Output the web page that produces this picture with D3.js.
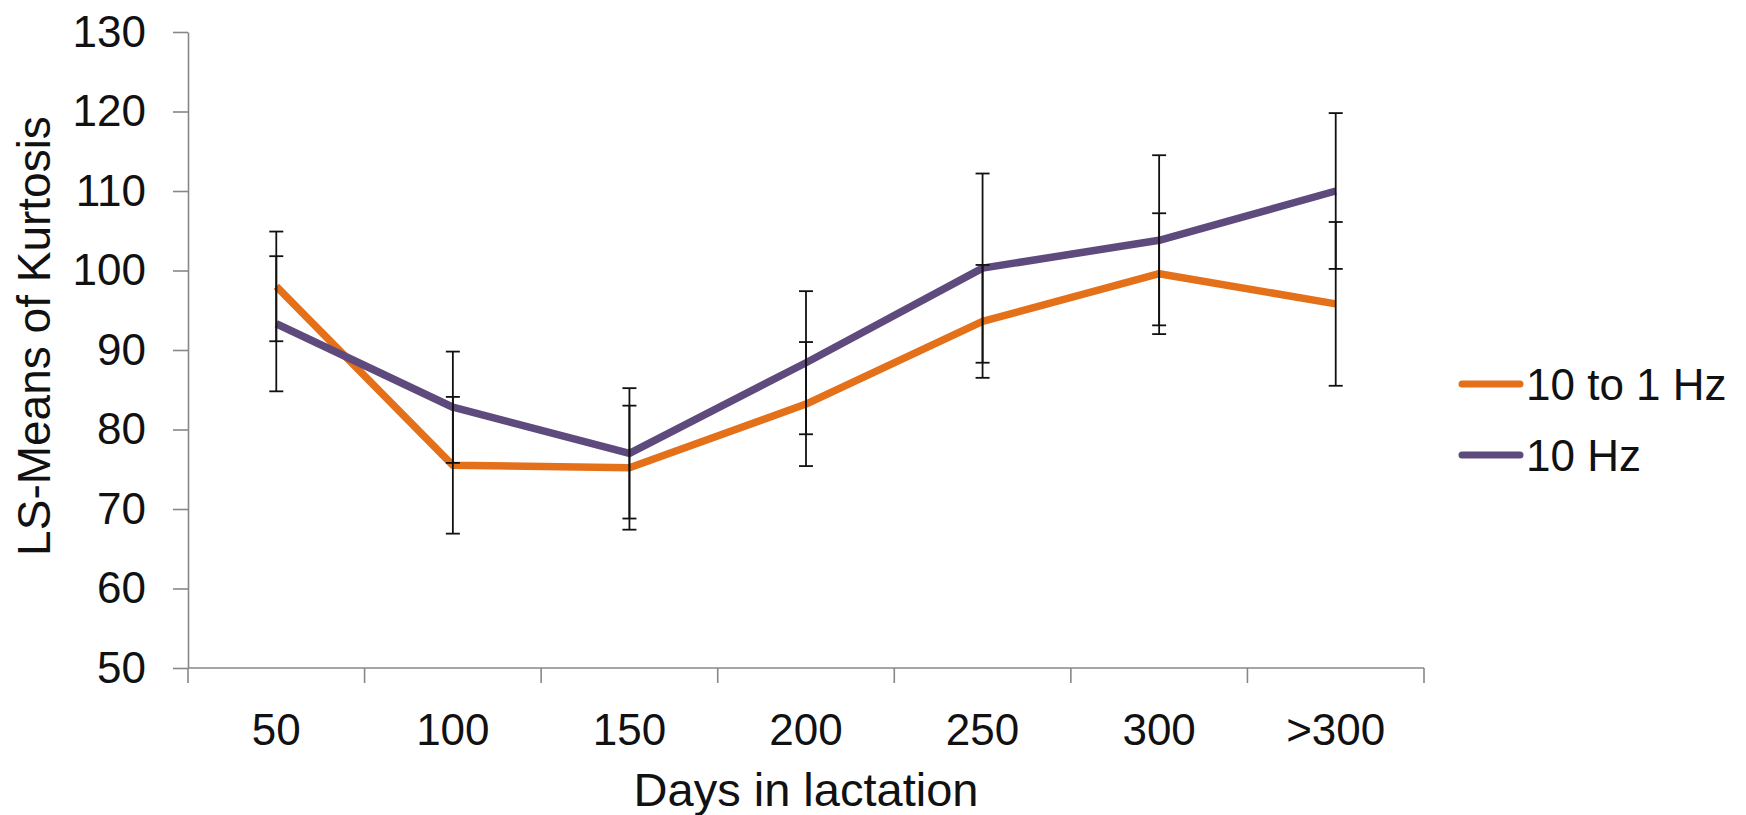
<!DOCTYPE html>
<html>
<head>
<meta charset="utf-8">
<script src="https://cdn.jsdelivr.net/npm/d3@7"></script>
<style>
  html, body { margin: 0; padding: 0; background: #ffffff; }
  svg { display: block; font-family: "Liberation Sans", Arial, sans-serif; }
</style>
</head>
<body>
<svg id="chart" width="1746" height="815"></svg>
<script>
// Days-in-lactation groups
const categories = ["50", "100", "150", "200", "250", "300", ">300"];

// LS-means of kurtosis and their error half-widths
const seriesNames = ["10 to 1 Hz", "10 Hz"];
const means10to1 = [98.0, 75.5, 75.2, 83.2, 93.6, 99.6, 95.8];
const err10to1   = [6.9, 8.6, 7.8, 7.8, 7.1, 7.6, 10.3];
const means10    = [93.3, 82.8, 77.0, 88.4, 100.3, 103.8, 110.0];
const err10      = [8.5, 7.0, 8.2, 9.0, 11.9, 10.7, 9.8];

const yTicks = [50, 60, 70, 80, 90, 100, 110, 120, 130];
const colors = ["#E4711A", "#5E4A7D"];

const series = [
  { name: seriesNames[0], values: means10to1, errors: err10to1, color: colors[0] },
  { name: seriesNames[1], values: means10, errors: err10, color: colors[1] }
];

const svg = d3.select("#chart");
const plotLeft = 188, plotRight = 1424, plotTop = 32, plotBottom = 668;

const x = d3.scaleBand().domain(categories).range([plotLeft, plotRight]).padding(0);
const y = d3.scaleLinear().domain([50, 130]).range([plotBottom, plotTop]);
const cx = c => x(c) + x.bandwidth() / 2;

const axisColor = "#878787";

// Y axis
const yAxis = svg.append("g")
  .attr("transform", `translate(${plotLeft},0)`)
  .call(d3.axisLeft(y).tickValues(yTicks).tickSize(15).tickPadding(27).tickSizeOuter(0));
yAxis.select(".domain").attr("stroke", axisColor).attr("stroke-width", 1.6);
yAxis.selectAll(".tick line").attr("stroke", axisColor).attr("stroke-width", 1.6);
yAxis.selectAll(".tick text")
  .attr("fill", "#111").attr("font-size", 44)
  .attr("font-family", "Liberation Sans, Arial, sans-serif");

// X axis: ticks sit on the band boundaries, labels at band centres
const xAxisG = svg.append("g").attr("transform", `translate(0,${plotBottom})`);
xAxisG.append("line")
  .attr("x1", plotLeft).attr("x2", plotRight)
  .attr("stroke", axisColor).attr("stroke-width", 1.6);
const boundaries = categories.map(c => x(c)).concat([plotRight]);
xAxisG.selectAll("line.tk").data(boundaries).enter().append("line")
  .attr("class", "tk")
  .attr("x1", d => d).attr("x2", d => d)
  .attr("y1", 0).attr("y2", 15)
  .attr("stroke", axisColor).attr("stroke-width", 1.6);
xAxisG.selectAll("text").data(categories).enter().append("text")
  .attr("x", d => cx(d)).attr("y", 77)
  .attr("text-anchor", "middle")
  .attr("font-size", 44).attr("fill", "#111")
  .text(d => d);

// Axis titles
svg.append("text")
  .attr("x", (plotLeft + plotRight) / 2).attr("y", 806)
  .attr("text-anchor", "middle").attr("font-size", 47).attr("fill", "#111")
  .text("Days in lactation");
svg.append("text")
  .attr("transform", "translate(50,336) rotate(-90)")
  .attr("text-anchor", "middle").attr("font-size", 46).attr("fill", "#111")
  .text("LS-Means of Kurtosis");

// Series lines
const line = d3.line().x((d, i) => cx(categories[i])).y(d => y(d));
series.forEach(s => {
  svg.append("path")
    .datum(s.values)
    .attr("d", line)
    .attr("fill", "none")
    .attr("stroke", s.color)
    .attr("stroke-width", 7.5)
    .attr("stroke-linejoin", "round");
});

// Error bars
const capHalf = 7;
series.forEach(s => {
  const g = svg.append("g").attr("stroke", "#111").attr("stroke-width", 1.8);
  s.values.forEach((v, i) => {
    const px = cx(categories[i]);
    const hi = y(v + s.errors[i]), lo = y(v - s.errors[i]);
    g.append("line").attr("x1", px).attr("x2", px).attr("y1", hi).attr("y2", lo);
    g.append("line").attr("x1", px - capHalf).attr("x2", px + capHalf).attr("y1", hi).attr("y2", hi);
    g.append("line").attr("x1", px - capHalf).attr("x2", px + capHalf).attr("y1", lo).attr("y2", lo);
  });
});

// Legend
const legend = svg.append("g");
series.forEach((s, i) => {
  const ly = 384 + i * 71;
  legend.append("line")
    .attr("x1", 1462).attr("x2", 1520).attr("y1", ly).attr("y2", ly)
    .attr("stroke", s.color).attr("stroke-width", 7).attr("stroke-linecap", "round");
  legend.append("text")
    .attr("x", 1526).attr("y", ly).attr("dy", "0.36em")
    .attr("font-size", 44).attr("fill", "#111")
    .text(s.name);
});
</script>
</body>
</html>
